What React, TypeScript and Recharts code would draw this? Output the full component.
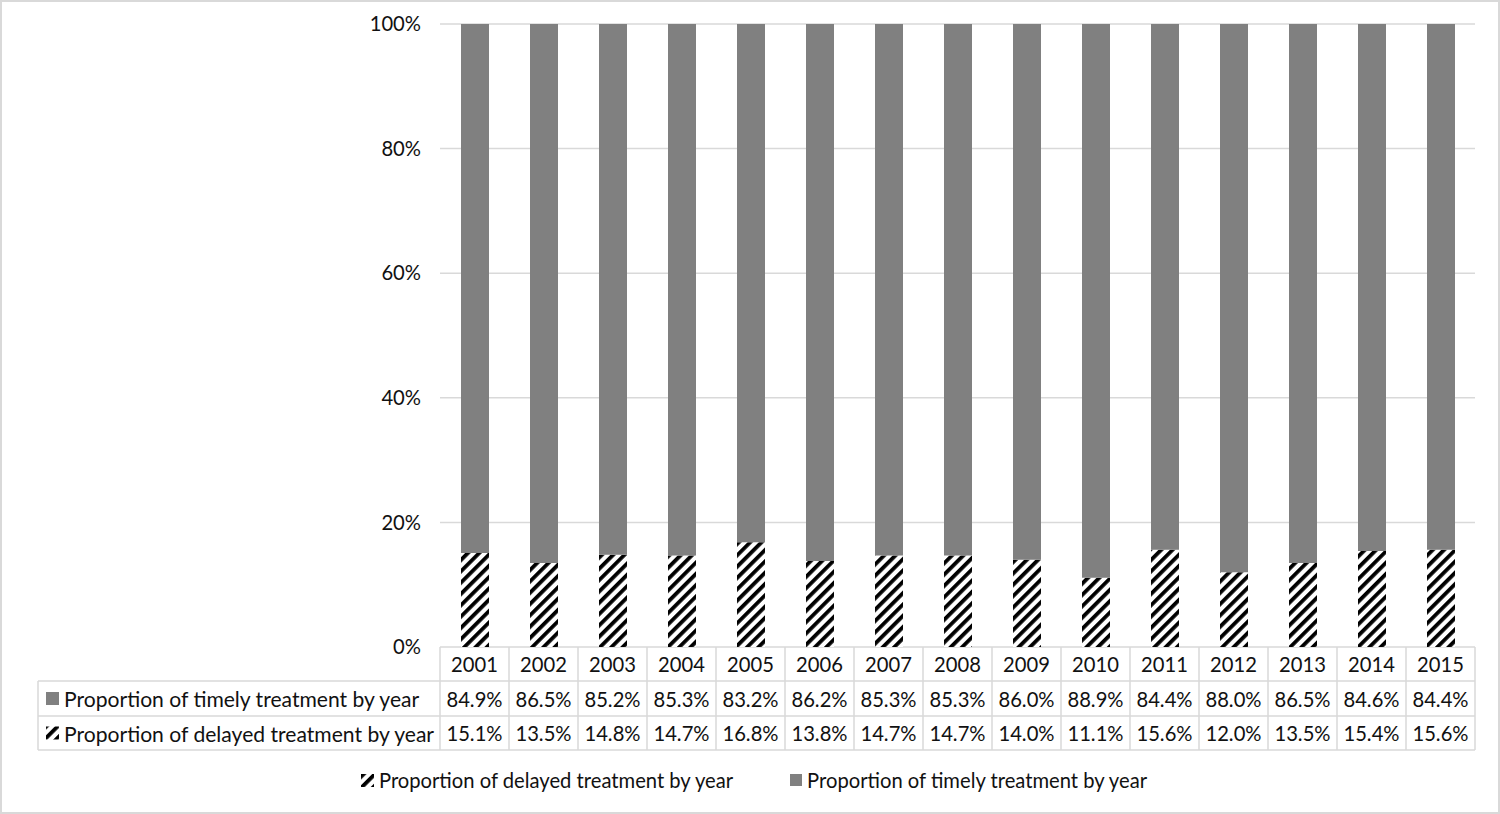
import React from 'react';
import { BarChart, Bar, XAxis, YAxis, CartesianGrid, Legend } from 'recharts';

const years = ['2001', '2002', '2003', '2004', '2005', '2006', '2007', '2008', '2009', '2010', '2011', '2012', '2013', '2014', '2015'];
const timely = [84.9, 86.5, 85.2, 85.3, 83.2, 86.2, 85.3, 85.3, 86.0, 88.9, 84.4, 88.0, 86.5, 84.6, 84.4];
const delayed = [15.1, 13.5, 14.8, 14.7, 16.8, 13.8, 14.7, 14.7, 14.0, 11.1, 15.6, 12.0, 13.5, 15.4, 15.6];
const yTicks = [0, 20, 40, 60, 80, 100];
const delayedName = 'Proportion of delayed treatment by year';
const timelyName = 'Proportion of timely treatment by year';

const data = years.map((year, i) => ({ year, delayed: delayed[i], timely: timely[i] }));

const W = 1500;
const H = 814;
const YW = 60;
const M = { top: 24, right: 25, left: 380, bottom: 14 };
const LEGEND_H = 40;
const TABLE_TOP = 647;
const XH = H - M.bottom - LEGEND_H - TABLE_TOP;
const PLOT_L = M.left + YW;
const PLOT_W = W - PLOT_L - M.right;
const BW = PLOT_W / years.length;
const ROWS = [TABLE_TOP, TABLE_TOP + 34, TABLE_TOP + 69, TABLE_TOP + 103];
const HEADER_L = 38;
const GRID = '#d9d9d9';
const FONT = 'Lato, "Open Sans", sans-serif';
const FS = 20.2;
const FS_HEAD = 21.1;
const TEXT = '#111';
const GRAY = '#808080';
const fmt = (v: number) => `${v.toFixed(1)}%`;

const HatchIcon = ({ id }: { id: string }) => (
  <svg width={13} height={13} style={{ display: 'block' }}>
    <defs>
      <pattern id={id} patternUnits="userSpaceOnUse" width={8} height={8} patternTransform="rotate(45)">
        <rect width={8} height={8} fill="#fff" />
        <rect width={3.8} height={8} fill="#000" />
      </pattern>
    </defs>
    <rect width={13} height={13} fill={`url(#${id})`} />
  </svg>
);

const TableTick = (props: any) => {
  const { x, index } = props;
  const l = x - BW / 2;
  const r = l + BW;
  const i = index as number;
  const cy = [(ROWS[0] + ROWS[1]) / 2, (ROWS[1] + ROWS[2]) / 2, (ROWS[2] + ROWS[3]) / 2];
  const textProps = { fontFamily: FONT, fontSize: FS, fill: TEXT, dominantBaseline: 'central' as const };
  const headProps = { ...textProps, fontSize: FS_HEAD };
  return (
    <g>
      <line x1={l} x2={l} y1={ROWS[0]} y2={ROWS[3]} stroke={GRID} strokeWidth={1.5} />
      {i === years.length - 1 && <line x1={r} x2={r} y1={ROWS[0]} y2={ROWS[3]} stroke={GRID} strokeWidth={1.5} />}
      {[1, 2, 3].map((k) => (
        <line key={k} x1={l} x2={r} y1={ROWS[k]} y2={ROWS[k]} stroke={GRID} strokeWidth={1.5} />
      ))}
      <text x={x} y={cy[0]} textAnchor="middle" {...textProps}>{years[i]}</text>
      <text x={x} y={cy[1]} textAnchor="middle" {...textProps}>{fmt(timely[i])}</text>
      <text x={x} y={cy[2]} textAnchor="middle" {...textProps}>{fmt(delayed[i])}</text>
      {i === 0 && (
        <g>
          <line x1={HEADER_L} x2={HEADER_L} y1={ROWS[1]} y2={ROWS[3]} stroke={GRID} strokeWidth={1.5} />
          <line x1={HEADER_L} x2={l} y1={ROWS[1]} y2={ROWS[1]} stroke={GRID} strokeWidth={1.5} />
          <line x1={HEADER_L} x2={l} y1={ROWS[2]} y2={ROWS[2]} stroke={GRID} strokeWidth={1.5} />
          <line x1={HEADER_L} x2={l} y1={ROWS[3]} y2={ROWS[3]} stroke={GRID} strokeWidth={1.5} />
          <rect x={46} y={cy[1] - 6.5} width={13} height={13} fill={GRAY} />
          <text x={64} y={cy[1]} textAnchor="start" {...headProps}>{timelyName}</text>
          <rect x={46} y={cy[2] - 6.5} width={13} height={13} fill="url(#hatchSmall)" />
          <text x={64} y={cy[2]} textAnchor="start" {...headProps}>{delayedName}</text>
        </g>
      )}
    </g>
  );
};

const LegendContent = () => (
  <div
    style={{
      display: 'flex',
      justifyContent: 'center',
      alignItems: 'center',
      height: LEGEND_H,
      fontFamily: FONT,
      fontSize: FS,
      color: TEXT,
      gap: 57,
      paddingLeft: 8,
    }}
  >
    <span style={{ display: 'flex', alignItems: 'center', gap: 5 }}>
      <HatchIcon id="legendHatch" />
      <span>{delayedName}</span>
    </span>
    <span style={{ display: 'flex', alignItems: 'center', gap: 5 }}>
      <span style={{ display: 'block', width: 12, height: 12, background: GRAY }} />
      <span>{timelyName}</span>
    </span>
  </div>
);

export default function App() {
  return (
    <div
      style={{
        position: 'absolute',
        left: 0,
        top: 0,
        width: W,
        height: H,
        background: '#fff',
        boxShadow: `inset 0 0 0 2px ${GRID}`,
      }}
    >
      <BarChart width={W} height={H} data={data} margin={M}>
        <defs>
          <pattern id="hatch" patternUnits="userSpaceOnUse" width={8} height={8} patternTransform="rotate(45)">
            <rect width={8} height={8} fill="#fff" />
            <rect width={3.8} height={8} fill="#000" />
          </pattern>
          <pattern id="hatchSmall" patternUnits="userSpaceOnUse" width={8} height={8} patternTransform="translate(46 0) rotate(45)">
            <rect width={8} height={8} fill="#fff" />
            <rect width={3.8} height={8} fill="#000" />
          </pattern>
        </defs>
        <CartesianGrid vertical={false} stroke={GRID} strokeWidth={1.5} />
        <YAxis
          width={YW}
          domain={[0, 100]}
          ticks={yTicks}
          tickFormatter={(v: number) => `${v}%`}
          axisLine={false}
          tickLine={false}
          tickSize={0}
          tickMargin={19}
          tick={{ fontFamily: FONT, fontSize: FS, fill: TEXT }}
        />
        <XAxis
          dataKey="year"
          height={XH}
          axisLine={false}
          tickLine={false}
          interval={0}
          tick={(p: any) => <TableTick {...p} />}
        />
        <Legend
          verticalAlign="bottom"
          content={() => <LegendContent />}
          wrapperStyle={{ left: 0, width: W, height: LEGEND_H, bottom: M.bottom }}
        />
        <Bar dataKey="delayed" name={delayedName} stackId="a" fill="url(#hatch)" barSize={28} isAnimationActive={false} />
        <Bar dataKey="timely" name={timelyName} stackId="a" fill={GRAY} barSize={28} isAnimationActive={false} />
      </BarChart>
    </div>
  );
}
